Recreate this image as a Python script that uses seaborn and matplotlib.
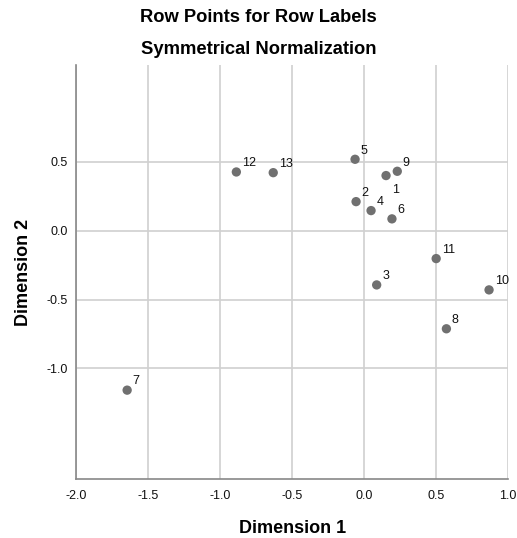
import matplotlib
matplotlib.use("Agg")
import matplotlib.pyplot as plt
import seaborn as sns
import pandas as pd

# row points
labels = ["1", "2", "3", "4", "5", "6", "7", "8", "9", "10", "11", "12", "13"]
dim1 = [0.152, -0.056, 0.087, 0.048, -0.063, 0.193, -1.645, 0.571, 0.230, 0.867, 0.500, -0.887, -0.631]
dim2 = [0.399, 0.210, -0.394, 0.145, 0.517, 0.085, -1.157, -0.712, 0.430, -0.430, -0.203, 0.425, 0.420]

xticks = [-2.0, -1.5, -1.0, -0.5, 0.0, 0.5, 1.0]
yticks = [-1.0, -0.5, 0.0, 0.5]

df = pd.DataFrame({"label": labels, "Dimension 1": dim1, "Dimension 2": dim2})

sns.set_style("white")
plt.rcParams["font.family"] = ["Liberation Sans", "DejaVu Sans"]

fig = plt.figure(figsize=(5.17, 5.38), dpi=100)
ax = fig.add_axes([0.147, 0.110, 0.836, 0.769])

sns.scatterplot(data=df, x="Dimension 1", y="Dimension 2", ax=ax,
                color="#707070", s=45, edgecolor="none", zorder=3)

for lab, x, y in zip(df["label"], df["Dimension 1"], df["Dimension 2"]):
    if lab == "1":
        ax.annotate(lab, (x, y), xytext=(4, -6), textcoords="offset points",
                    ha="left", va="top", fontsize=9, color="#111111")
    else:
        ax.annotate(lab, (x, y), xytext=(4, 2), textcoords="offset points",
                    ha="left", va="bottom", fontsize=9, color="#111111")

ax.set_xlim(-2.0, 1.0)
ax.set_ylim(-1.8, 1.2)
ax.set_xticks(xticks)
ax.set_yticks(yticks)
ax.set_xticklabels([f"{t:.1f}" for t in xticks])
ax.set_yticklabels([f"{t:.1f}" for t in yticks])
ax.grid(True, color="#d0d0d0", linewidth=1.2)
ax.set_axisbelow(True)
ax.tick_params(length=0, labelsize=9, colors="#111111")
ax.tick_params(axis="x", pad=8)
ax.tick_params(axis="y", pad=6)

for side in ["top", "right"]:
    ax.spines[side].set_visible(False)
for side in ["left", "bottom"]:
    ax.spines[side].set_color("#888888")
    ax.spines[side].set_linewidth(1.2)

ax.set_xlabel("Dimension 1", fontsize=13, fontweight="bold", labelpad=13, color="black")
ax.set_ylabel("Dimension 2", fontsize=13, fontweight="bold", labelpad=10, color="black")

fig.text(0.5, 1 - 17 / 538, "Row Points for Row Labels", ha="center", va="center",
         fontsize=13.2, fontweight="bold", color="black")
fig.text(0.5, 1 - 49 / 538, "Symmetrical Normalization", ha="center", va="center",
         fontsize=13.2, fontweight="bold", color="black")

fig.savefig("out.png", dpi=100)
